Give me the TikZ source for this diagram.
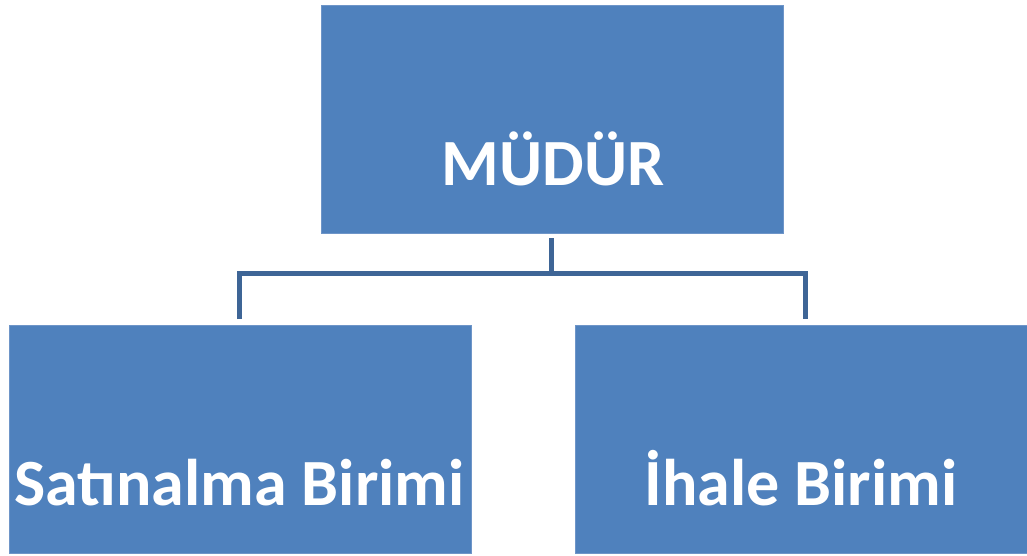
\documentclass[tikz,border=0pt]{standalone}
\usepackage{fontspec}
\setmainfont{Carlito}
\definecolor{boxblue}{HTML}{4F81BD}
\definecolor{boxedge}{HTML}{6E95C8}
\definecolor{linkblue}{HTML}{3E6596}
\begin{document}
\begin{tikzpicture}[x=1pt,y=-1pt,
  unitbox/.style={draw=boxedge,line width=1pt,fill=boxblue,inner sep=0pt},
  unitlabel/.style={anchor=base,text=white,font=\bfseries\fontsize{66}{70}\selectfont,inner sep=0pt},
  link/.style={draw=linkblue,line width=5pt}]
\fill[white] (0,0) rectangle (1027,555);
\useasboundingbox (0,0) rectangle (1027,555);
\node[unitbox,minimum width=462pt,minimum height=228pt,anchor=north west] (mudur) at (320.5,4.5) {};
\node[unitbox,minimum width=462pt,minimum height=228pt,anchor=north west] (satin) at (8.5,325) {};
\node[unitbox,minimum width=460pt,minimum height=228pt,anchor=north west] (ihale) at (574.5,325) {};
\node[unitlabel] (mudurt) at (553,185) {MÜDÜR};
\node[unitlabel] (satint) at (239.5,505) {Satınalma Birimi};
\node[unitlabel] (ihalet) at (801,505) {İhale Birimi};
\coordinate (top) at (551.5,238);
\coordinate (mid) at (551.5,273);
\coordinate (lt) at (239.5,273);
\coordinate (rt) at (805,273);
\coordinate (lb) at (239.5,319);
\coordinate (rb) at (805,319);
\draw[link] (top) -- (mid);
\draw[link] (lb) -- (lt) -- (rt) -- (rb);
\end{tikzpicture}
\end{document}
